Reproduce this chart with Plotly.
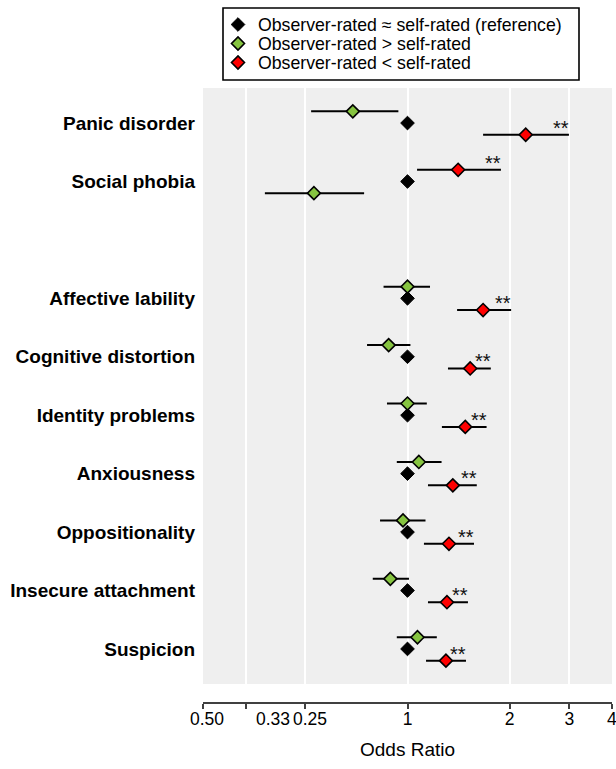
import numpy as np
import plotly.graph_objects as go

# ---------------- data ----------------
categories = ["Panic disorder", "Social phobia",
              "Affective lability", "Cognitive distortion", "Identity problems",
              "Anxiousness", "Oppositionality", "Insecure attachment", "Suspicion"]
group_sizes = [2, 7]          # DSM disorders, then personality traits

ref_or = [1, 1, 1, 1, 1, 1, 1, 1, 1]

green_or = [0.69, 0.53, 1.00, 0.88, 1.00, 1.08, 0.97, 0.89, 1.07]
green_lo = [0.52, 0.38, 0.85, 0.76, 0.87, 0.93, 0.83, 0.79, 0.93]
green_hi = [0.94, 0.745, 1.165, 1.02, 1.14, 1.26, 1.13, 1.01, 1.22]

red_or = [2.23, 1.41, 1.67, 1.53, 1.48, 1.36, 1.325, 1.307, 1.298]
red_lo = [1.67, 1.067, 1.40, 1.316, 1.263, 1.149, 1.118, 1.149, 1.134]
red_hi = [2.99, 1.885, 2.02, 1.76, 1.71, 1.60, 1.57, 1.507, 1.487]
red_sig = ["**", "**", "**", "**", "**", "**", "**", "**", "**"]

series_names = ["Observer-rated \u2248 self-rated (reference)",
                "Observer-rated > self-rated",
                "Observer-rated < self-rated"]

x_tickvals = [0.25, 1 / 3, 0.5, 1, 2, 3, 4]
x_ticklabels = ["0.50", "0.33", "0.25", "1", "2", "3", "4"]
# the three low labels are printed slightly to the right of their ticks (as in the original)
label_shift = [4, 27, 5, 0, 0, 0, 0]

red_on_top = ["Social phobia"]

# ---------------- layout helpers ----------------
rows = []
r = 1
for n in group_sizes:
    for _ in range(n):
        rows.append(r)
        r += 1
    r += 1  # blank row between groups

off = 0.2
y_ref = rows
y_green = [row + (off if c in red_on_top else -off) for row, c in zip(rows, categories)]
y_red = [row + (-off if c in red_on_top else off) for row, c in zip(rows, categories)]

FONT = "Liberation Sans, Arial, Helvetica, sans-serif"
GREEN = "#86C440"
RED = "#FF0000"

W, H = 616, 769
ML, MR, MT, MB = 203, 4, 88, 66
PW, PH = W - ML - MR, H - MT - MB


def px_x(p):
    return (p - ML) / PW


def px_y(p):
    return (H - MB - p) / PH


fig = go.Figure()

fig.add_trace(go.Scatter(
    x=ref_or, y=y_ref, mode="markers", name=series_names[0], legend="legend",
    marker=dict(symbol="diamond", size=10.5, color="black",
                line=dict(color="black", width=1)),
))

fig.add_trace(go.Scatter(
    x=green_or, y=y_green, mode="markers", name=series_names[1], legend="legend2",
    error_x=dict(type="data", symmetric=False,
                 array=[h - o for h, o in zip(green_hi, green_or)],
                 arrayminus=[o - l for o, l in zip(green_or, green_lo)],
                 color="black", thickness=2, width=0),
    marker=dict(symbol="diamond", size=10, color=GREEN,
                line=dict(color="black", width=1.6)),
))

fig.add_trace(go.Scatter(
    x=red_or, y=y_red, mode="markers", name=series_names[2], legend="legend3",
    error_x=dict(type="data", symmetric=False,
                 array=[h - o for h, o in zip(red_hi, red_or)],
                 arrayminus=[o - l for o, l in zip(red_or, red_lo)],
                 color="black", thickness=2, width=0),
    marker=dict(symbol="diamond", size=10, color=RED,
                line=dict(color="black", width=1.6)),
))

annotations = []
for hi, yr, s in zip(red_hi, y_red, red_sig):
    annotations.append(dict(
        x=np.log10(hi), y=yr, xref="x", yref="y", text=s, showarrow=False,
        xanchor="right", yanchor="middle", xshift=2, yshift=7,
        font=dict(family=FONT, size=20, color="#111111")))

axis_ticktext = []
for v, lab, sh in zip(x_tickvals, x_ticklabels, label_shift):
    if sh:
        axis_ticktext.append("")
        annotations.append(dict(
            x=np.log10(v), y=0, xref="x", yref="paper", text=lab,
            showarrow=False, xanchor="center", yanchor="top", xshift=sh, yshift=-4,
            font=dict(family=FONT, size=17.5, color="black")))
    else:
        axis_ticktext.append(lab)

legend_common = dict(xanchor="left", yanchor="middle", bgcolor="rgba(0,0,0,0)",
                     borderwidth=0,
                     font=dict(family=FONT, size=17.7, color="black"))
leg_x = px_x(218)

fig.update_layout(
    width=W, height=H,
    margin=dict(l=ML, r=MR, t=MT, b=MB, autoexpand=False),
    paper_bgcolor="white",
    plot_bgcolor="#EFEFEF",
    font=dict(family=FONT, color="black"),
    showlegend=True,
    legend=dict(x=leg_x, y=px_y(25), **legend_common),
    legend2=dict(x=leg_x, y=px_y(44), **legend_common),
    legend3=dict(x=leg_x, y=px_y(63), **legend_common),
    shapes=[dict(type="rect", xref="paper", yref="paper",
                 x0=px_x(223), x1=px_x(579), y0=px_y(80), y1=px_y(8),
                 line=dict(color="black", width=1.6), fillcolor="white",
                 layer="below")],
    annotations=annotations,
    xaxis=dict(
        type="log",
        range=[np.log10(0.25) - 0.0005, np.log10(4) + 0.0005],
        tickmode="array", tickvals=x_tickvals, ticktext=axis_ticktext,
        showgrid=True, gridcolor="white", gridwidth=2,
        zeroline=False,
        showline=True, linecolor="#404040", linewidth=1.5,
        ticks="outside", ticklen=5, tickwidth=1.5, tickcolor="#404040",
        tickfont=dict(family=FONT, size=17.5, color="black"),
        ticklabelstandoff=-5,
        ticklabeloverflow="allow",
        anchor="free", position=0,
        title=dict(text="Odds Ratio", standoff=14,
                   font=dict(family=FONT, size=19, color="black")),
    ),
    yaxis=dict(
        domain=[19 / PH, 1],
        range=[10.6, 0.4],
        tickmode="array", tickvals=rows,
        ticktext=["<b>%s</b>" % c for c in categories],
        tickfont=dict(family=FONT, size=19, color="black"),
        showgrid=False, zeroline=False, showline=False, ticks="",
        ticklabelstandoff=7,
    ),
)

fig.write_html("out.html",
               config={"displayModeBar": False},
               post_script="document.body.style.margin='0';document.body.style.overflow='hidden';")
